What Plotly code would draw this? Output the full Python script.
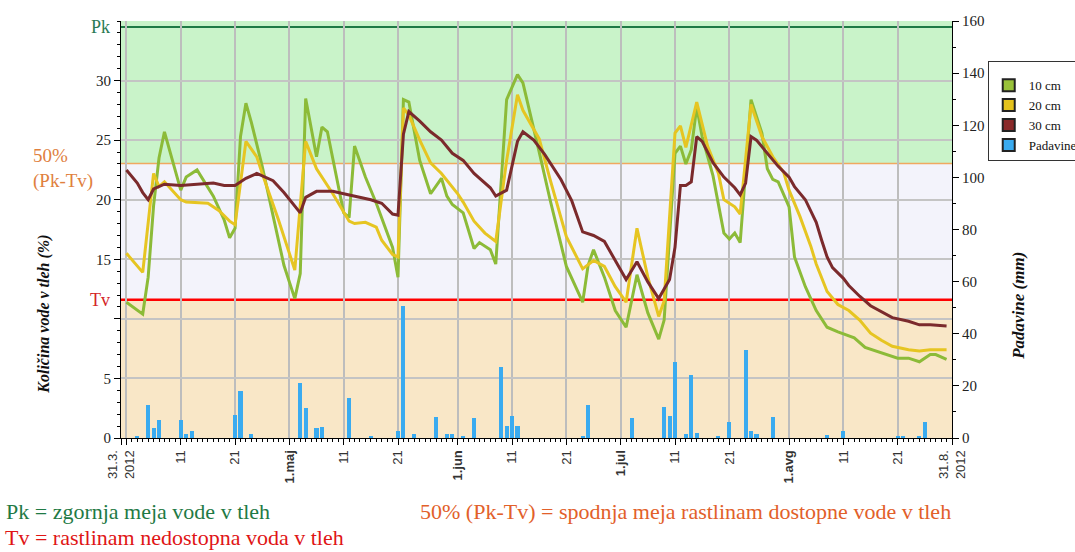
import pandas as pd
import plotly.graph_objects as go

START = "2012-03-31"
END = "2012-08-31"

# soil moisture (%) - day offsets from 31.3.2012 and values
d10 = [1,4,5,6,7,8,11,12,14,17,19,20,21,22,23,24,26,28,30,32,33,34,36,37,38,41,42,43,45,47,50,51,52,53,55,57,59,60,61,63,65,66,68,69,71,73,74,77,79,82,85,86,87,89,91,93,95,97,99,100,102,103,104,105,106,107,109,111,112,113,114,116,118,119,120,121,123,124,126,128,130,132,134,135,137,139,141,143,145,147,149,150,152]
v10 = [11.4,10.4,13.5,19.5,23.5,25.7,20.8,21.9,22.5,20.3,18.3,16.8,17.6,25.3,28.1,26.5,22.8,18.5,14.5,11.7,13.8,28.5,23.6,26.1,25.7,18.9,18.5,24.5,21.9,19.7,16.0,13.5,28.4,28.2,23.3,20.5,21.8,20.3,19.6,18.9,15.9,16.4,15.8,14.6,28.4,30.5,29.8,24.0,20.0,14.4,11.4,14.5,15.8,13.5,10.7,9.3,13.7,10.5,8.3,9.9,23.9,24.5,23.0,24.2,27.8,25.3,22.0,17.2,16.7,17.2,16.4,28.4,25.6,22.6,21.7,21.5,19.4,15.2,12.7,10.7,9.3,8.9,8.6,8.4,7.6,7.3,7.0,6.7,6.7,6.4,7.0,7.0,6.6]

d20 = [1,4,6,7,8,11,12,16,18,20,21,22,23,25,26,29,32,34,36,39,42,43,45,47,48,50,51,52,53,55,57,59,62,63,65,67,69,71,73,74,77,79,82,85,87,89,91,93,95,97,99,100,102,103,104,106,108,110,111,113,114,116,118,120,122,123,125,127,128,130,132,134,136,138,140,142,145,147,149,152]
v20 = [15.5,13.9,22.2,21.1,21.5,20.0,19.8,19.7,19.1,18.2,17.9,21.5,24.9,23.6,22.2,18.3,14.1,24.9,22.6,20.5,18.2,18.0,18.1,17.7,16.6,15.4,15.2,27.7,27.1,25.0,23.1,22.2,20.5,19.8,18.2,17.2,16.5,23.3,28.8,27.5,25.1,21.7,16.9,14.2,14.9,14.4,12.7,11.4,17.6,13.5,10.2,11.5,25.6,26.2,24.4,28.2,24.5,22.2,20.0,19.4,18.8,28.0,25.3,23.6,22.3,20.8,18.6,16.1,14.6,12.3,11.2,10.7,9.9,8.8,8.2,7.7,7.4,7.3,7.4,7.4]

d30 = [1,3,4,5,6,8,11,14,17,19,21,23,25,28,30,33,34,36,39,41,44,46,48,50,51,52,53,55,57,59,61,63,65,68,69,71,73,74,76,78,81,83,85,87,89,91,93,95,97,99,101,102,103,104,105,106,107,109,111,113,114,115,116,117,119,121,123,124,126,128,129,130,131,133,134,136,138,140,142,145,147,149,152]
v30 = [22.5,21.4,20.6,20.0,20.9,21.3,21.2,21.3,21.4,21.2,21.2,21.8,22.2,21.6,20.6,18.9,20.2,20.7,20.7,20.5,20.2,20.0,19.7,18.8,18.7,25.5,27.4,26.6,25.7,25.0,23.9,23.3,22.2,21.0,20.3,20.8,24.9,25.7,25.0,23.8,21.7,19.9,17.3,17.0,16.5,14.9,13.3,14.8,13.1,11.7,13.3,16.0,21.2,21.2,21.5,25.3,24.9,23.1,21.9,21.0,20.4,21.4,25.3,25.0,23.9,22.8,21.9,21.1,20.0,18.1,16.6,15.2,14.3,13.4,12.8,11.9,11.1,10.6,10.1,9.8,9.5,9.5,9.4]

# precipitation (mm)
db = [3,5,6,7,11,12,13,21,22,24,33,34,36,37,42,46,51,52,54,58,60,61,63,65,70,71,72,73,85,86,94,100,101,102,104,105,106,110,112,115,116,117,120,130,133,143,144,147,148]
vb = [0.7,12.6,3.9,7.1,7.1,1.7,2.6,9.0,18.0,1.7,21.2,11.6,4.0,4.4,15.3,0.6,2.6,50.5,1.5,8.1,1.7,1.7,0.5,7.5,27.4,4.6,8.5,4.7,0.6,12.6,7.5,11.8,8.5,29.3,1.7,24.2,2.0,0.6,6.2,33.8,2.6,1.7,8.1,1.3,2.6,0.5,0.5,0.5,6.2]

assert len(d10) == len(v10) and len(d20) == len(v20) and len(d30) == len(v30) and len(db) == len(vb)

PK = 34.5
TV = 11.6
HALF = 23.05

x_ticks = ["2012-03-31","2012-04-01","2012-04-11","2012-04-21","2012-05-01","2012-05-11","2012-05-21",
           "2012-06-01","2012-06-11","2012-06-21","2012-07-01","2012-07-11","2012-07-21",
           "2012-08-01","2012-08-11","2012-08-21","2012-08-31"]
x_text = ["31.3.<br>2012","","11","21","<b>1.maj</b>","11","21","<b>1.jun</b>","11","21",
          "<b>1.jul</b>","11","21","<b>1.avg</b>","11","21","31.8.<br>2012"]

series = [("10 cm", d10, v10, "#8cbb38", "#99c23a"),
          ("20 cm", d20, v20, "#e6c522", "#e4c21c"),
          ("30 cm", d30, v30, "#7b2a2c", "#8a2a2a")]
BAR_COLOR = "#3aabf0"


def to_dates(days):
    t0 = pd.Timestamp(START)
    return [(t0 + pd.Timedelta(days=d)).strftime("%Y-%m-%d") for d in days]


SERIF = "Liberation Serif, Times New Roman, serif"
SANS = "Liberation Sans, Arial, sans-serif"

fig = go.Figure()

fig.add_trace(go.Bar(x=to_dates(db), y=vb, yaxis="y2", marker=dict(color=BAR_COLOR, line=dict(width=0)),
                     width=0.75 * 86400000, showlegend=False))

for name, d, v, col, _ in series:
    fig.add_trace(go.Scatter(x=to_dates(d), y=v, mode="lines", line=dict(color=col, width=3),
                             showlegend=False, name=name))

# legend swatches
for name, _, _, _, sw in series:
    fig.add_trace(go.Scatter(x=[None], y=[None], mode="markers", name=name,
                             marker=dict(symbol="square", size=10, color=sw, line=dict(color="#222", width=1))))
fig.add_trace(go.Scatter(x=[None], y=[None], mode="markers", name="Padavine",
                         marker=dict(symbol="square", size=10, color=BAR_COLOR, line=dict(color="#222", width=1))))

# background bands
bands = [(HALF, 35, "#c9f3c9"), (TV, HALF, "#f3f3fb"), (0, TV, "#f9e7c7")]
shapes = []
for y0, y1, c in bands:
    shapes.append(dict(type="rect", xref="paper", yref="y", x0=0, x1=1, y0=y0, y1=y1,
                       fillcolor=c, line=dict(width=0), layer="below"))
shapes.append(dict(type="line", xref="paper", yref="y", x0=0, x1=1, y0=PK, y1=PK,
                   line=dict(color="#1f7a45", width=2), layer="between"))
shapes.append(dict(type="line", xref="paper", yref="y", x0=0, x1=1, y0=HALF, y1=HALF,
                   line=dict(color="#f0a860", width=1.5), layer="between"))
shapes.append(dict(type="line", xref="paper", yref="y", x0=0, x1=1, y0=TV, y1=TV,
                   line=dict(color="#ff0000", width=2.5), layer="between"))

annotations = [
    dict(text="Pk", xref="paper", yref="y", x=-0.011, y=PK, xanchor="right", yanchor="middle",
         showarrow=False, font=dict(family=SERIF, size=18, color="#2a7a55")),
    dict(text="Tv", xref="paper", yref="y", x=-0.011, y=TV, xanchor="right", yanchor="middle",
         showarrow=False, font=dict(family=SERIF, size=18, color="#d42525")),
    dict(text="50%<br>(Pk-Tv)", xref="paper", yref="y", x=-0.108, y=HALF - 0.4, xanchor="left",
         yanchor="middle", align="left", showarrow=False,
         font=dict(family=SERIF, size=19, color="#e0803e")),
    dict(text="<b><i>Količina vode v tleh (%)</i></b>", xref="paper", yref="paper", x=-0.092, y=0.297,
         textangle=-90, showarrow=False, xanchor="center", yanchor="middle",
         font=dict(family=SERIF, size=16, color="#111")),
    dict(text="<b><i>Padavine (mm)</i></b>", xref="paper", yref="paper", x=1.08, y=0.318,
         textangle=-90, showarrow=False, xanchor="center", yanchor="middle",
         font=dict(family=SERIF, size=17, color="#111")),
    dict(text="Pk = zgornja meja vode v tleh", xref="paper", yref="paper", x=-0.141, y=-0.176,
         xanchor="left", yanchor="middle", showarrow=False,
         font=dict(family=SERIF, size=22, color="#1f7a45")),
    dict(text="Tv = rastlinam nedostopna voda v tleh", xref="paper", yref="paper", x=-0.142, y=-0.2395,
         xanchor="left", yanchor="middle", showarrow=False,
         font=dict(family=SERIF, size=22, color="#e01515")),
    dict(text="50% (Pk-Tv) = spodnja meja rastlinam dostopne vode v tleh", xref="paper", yref="paper",
         x=0.357, y=-0.176, xanchor="left", yanchor="middle", showarrow=False,
         font=dict(family=SERIF, size=22, color="#e2602a")),
]

fig.update_layout(
    width=1075, height=552,
    margin=dict(l=121, r=123, t=21, b=114, autoexpand=False),
    paper_bgcolor="white", plot_bgcolor="white",
    bargap=0,
    shapes=shapes, annotations=annotations,
    legend=dict(x=1.043, y=0.903, xanchor="left", yanchor="top", bgcolor="white",
                bordercolor="#333", borderwidth=1, font=dict(family=SERIF, size=13, color="#111"),
                itemsizing="constant", tracegroupgap=0,
                title=dict(text=" ", font=dict(size=6))),
    xaxis=dict(type="date", range=[START, END], tickmode="array", tickvals=x_ticks, ticktext=x_text,
               tickangle=-90, ticks="outside", ticklen=6, tickcolor="#000",
               showline=True, linecolor="#000", linewidth=1,
               showgrid=True, gridcolor="#bdbdbd", gridwidth=2,
               tickfont=dict(family=SANS, size=13, color="#333"),
               minor=dict(dtick=86400000, tick0=START, ticks="outside", ticklen=3, tickcolor="#000",
                          showgrid=False)),
    yaxis=dict(range=[0, 35], tickmode="array", tickvals=[0, 5, 10, 15, 20, 25, 30],
               ticktext=["0", "5", "", "15", "20", "25", "30"],
               ticks="outside", ticklen=6, tickcolor="#000", showline=True, linecolor="#000",
               linewidth=1, showgrid=True, gridcolor="#c4c4c4", gridwidth=1.5, zeroline=False,
               tickfont=dict(family=SERIF, size=15, color="#222"),
               minor=dict(dtick=1, tick0=0, ticks="outside", ticklen=3, tickcolor="#000", showgrid=False)),
    yaxis2=dict(range=[0, 160], overlaying="y", side="right", dtick=20, tick0=0,
                ticks="outside", ticklen=6, tickcolor="#000", showline=True, linecolor="#000",
                linewidth=1, showgrid=False, zeroline=False,
                tickfont=dict(family=SERIF, size=15, color="#222"),
                minor=dict(dtick=10, tick0=0, ticks="outside", ticklen=3, tickcolor="#000")),
)

fig.write_html("out.html", config={"displayModeBar": False},
               post_script="document.body.style.margin='0px';")
